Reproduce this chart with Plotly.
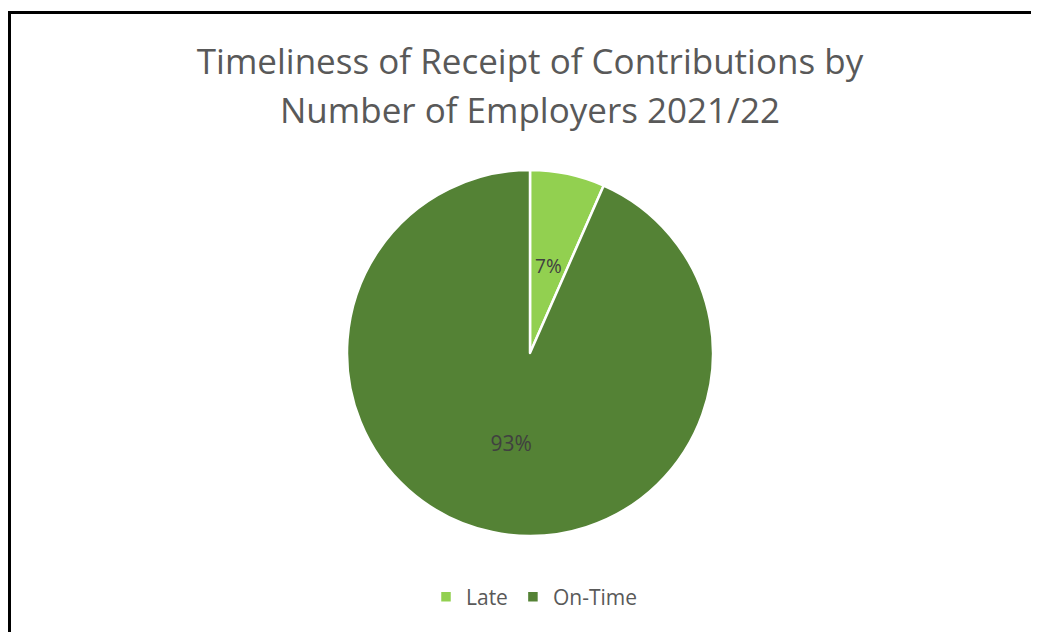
import plotly.graph_objects as go

categories = ["Late", "On-Time"]
shares = [6.6, 93.4]
colors = ["#92D050", "#548235"]
title_lines = ["Timeliness of Receipt of Contributions by", "Number of Employers 2021/22"]

W, H = 1039, 632
OFF = 8  # page body margin
FONT = "Open Sans, Lato, sans-serif"

cx, cy, R = 530 - OFF, 353 - OFF, 183
r_lab = 108

def dom(rad):
    return dict(x=[(cx - rad) / W, (cx + rad) / W], y=[1 - (cy + rad) / H, 1 - (cy - rad) / H])

fig = go.Figure()
fig.add_trace(go.Pie(
    labels=categories,
    values=shares,
    marker=dict(colors=colors, line=dict(color="white", width=2.5)),
    sort=False,
    direction="clockwise",
    rotation=0,
    texttemplate=["", "%{percent:.0%}"],
    textposition="inside",
    insidetextorientation="horizontal",
    textfont=dict(family=FONT, size=21, color="#404040"),
    hoverinfo="label+percent",
    domain=dom(R),
))
# label-only layer placing the small slice's label nearer the middle
fig.add_trace(go.Pie(
    labels=categories,
    values=shares,
    marker=dict(colors=["rgba(0,0,0,0)", "rgba(0,0,0,0)"], line=dict(width=0)),
    sort=False,
    direction="clockwise",
    rotation=0,
    texttemplate=["%{percent:.0%}", ""],
    textposition="inside",
    insidetextorientation="horizontal",
    textfont=dict(family=FONT, size=21, color="#404040"),
    hoverinfo="skip",
    showlegend=False,
    domain=dom(r_lab),
))

fig.update_layout(
    width=W, height=H,
    margin=dict(l=0, r=0, t=0, b=0),
    paper_bgcolor="white",
    title=dict(
        text=title_lines[0],
        x=cx / W, xanchor="center",
        y=1 - (62 - OFF) / H, yanchor="middle", yref="container",
        font=dict(family=FONT, size=35, color="#595959"),
    ),
    annotations=[dict(
        text=title_lines[1], showarrow=False,
        xref="paper", yref="paper",
        x=cx / W, xanchor="center",
        y=1 - (110 - OFF) / H, yanchor="middle",
        font=dict(family=FONT, size=35, color="#595959"),
    )],
    legend=dict(
        orientation="h",
        x=(534 - OFF) / W, xanchor="center",
        y=1 - (597 - OFF) / H, yanchor="middle",
        font=dict(family=FONT, size=21, color="#595959"),
        itemwidth=30,
        traceorder="normal",
    ),
    shapes=[dict(
        type="rect", xref="paper", yref="paper",
        x0=1.5 / W, x1=1.05, y0=-0.05, y1=1 - 4.5 / H,
        line=dict(color="black", width=3),
    )],
)

fig.write_html("out.html")
